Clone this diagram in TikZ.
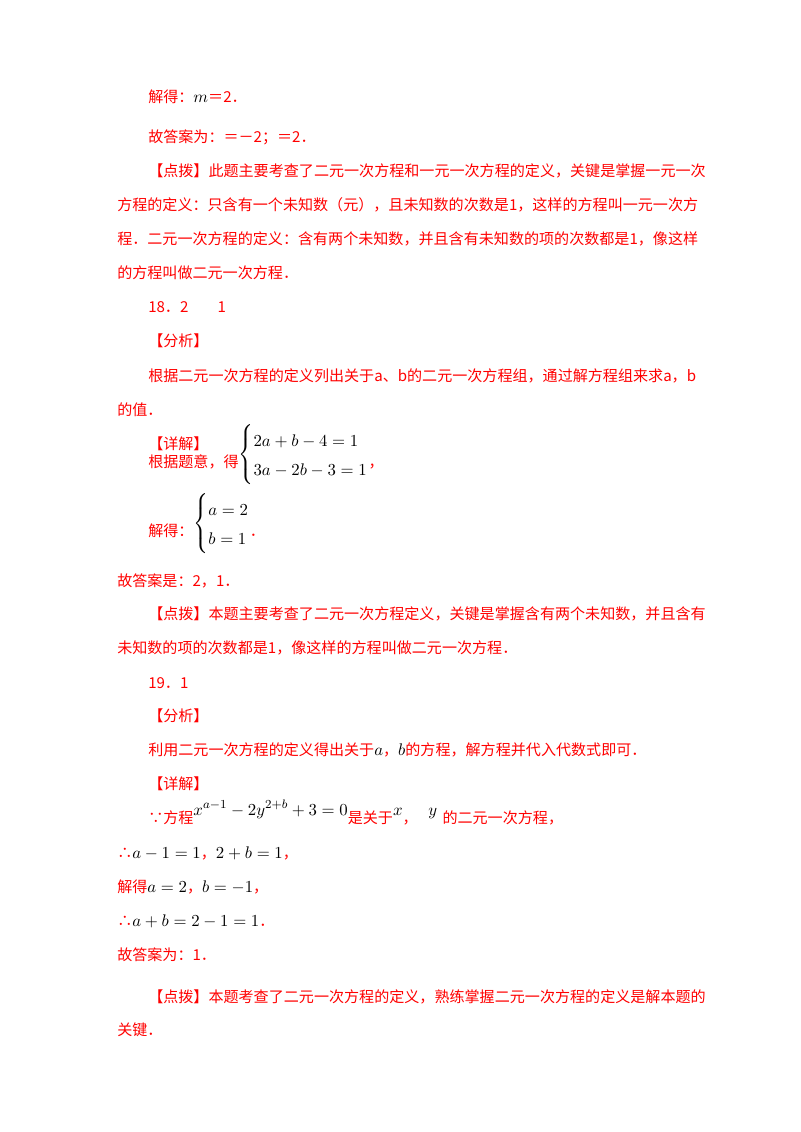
\documentclass[tikz,border=0pt]{standalone}
\usepackage{amsmath}
\usepackage{fontspec}
\setmainfont{Liberation Serif}
\newfontfamily\cjk{Noto Sans CJK SC}
\definecolor{rd}{RGB}{255,0,0}
\begin{document}
\begin{tikzpicture}[x=0.75pt,y=-0.75pt]
\tikzset{ln/.style={anchor=base west,inner sep=0pt,font=\cjk\fontsize{11.3}{13}\selectfont,text=rd}}
\useasboundingbox (0,0) rectangle (800,1132);
\newcommand{\M}[1]{\textcolor{black}{\scalebox{1.15}{$#1$}}}
\newcommand{\SYS}[1]{\textcolor{black}{\scalebox{1.15}{\renewcommand{\arraystretch}{1.45}$\left\{\begin{array}{@{}l@{}}#1\end{array}\right.$}}}
\node[ln] (l1) at (148,102) {解得：\M{m}＝2．};
\node[ln] (l2) at (148,142) {故答案为：＝－2；＝2．};
\node[ln] (l3) at (148,176) {【点拨】此题主要考查了二元一次方程和一元一次方程的定义，关键是掌握一元一次};
\node[ln] (l4) at (117,210) {方程的定义：只含有一个未知数（元），且未知数的次数是1，这样的方程叫一元一次方};
\node[ln] (l5) at (117,244) {程．二元一次方程的定义：含有两个未知数，并且含有未知数的项的次数都是1，像这样};
\node[ln] (l6) at (117,278) {的方程叫做二元一次方程．};
\node[ln] (l7) at (148,312) {18．2\hspace{22pt}1};
\node[ln] (l8) at (148,346) {【分析】};
\node[ln] (l9) at (148,381) {根据二元一次方程的定义列出关于a、b的二元一次方程组，通过解方程组来求a，b};
\node[ln] (l10) at (117,415) {的值．};
\node[ln] (l11) at (148,412) {\phantom{x}};
\node[ln] (l11b) at (148,420) {};
\node[ln] (l11c) at (148,449) {【详解】};
\node[ln] (l12) at (148,467) {根据题意，得\raisebox{6pt}{\SYS{2a+b-4=1\\3a-2b-3=1}}，};
\node[ln] (l13) at (148,536) {解得：\raisebox{6pt}{\SYS{a=2\\b=1}}．};
\node[ln] (l14) at (117,586) {故答案是：2，1．};
\node[ln] (l15) at (148,619) {【点拨】本题主要考查了二元一次方程定义，关键是掌握含有两个未知数，并且含有};
\node[ln] (l16) at (117,653) {未知数的项的次数都是1，像这样的方程叫做二元一次方程．};
\node[ln] (l17) at (148,688) {19．1};
\node[ln] (l18) at (148,721) {【分析】};
\node[ln] (l19) at (148,755) {利用二元一次方程的定义得出关于\M{a}，\M{b}的方程，解方程并代入代数式即可．};
\node[ln] (l20) at (148,789) {【详解】};
\node[ln] (l21) at (148,823) {∵方程\raisebox{6pt}{\M{x^{a-1}-2y^{2+b}+3=0}}是关于\raisebox{6pt}{\M{x}}，\raisebox{6pt}{\hspace{8pt}\M{y}}\hspace{4pt}的二元一次方程，};
\node[ln] (l22) at (117,858) {∴\M{a-1=1}，\M{2+b=1}，};
\node[ln] (l23) at (117,892) {解得\M{a=2}，\M{b=-1}，};
\node[ln] (l24) at (117,926) {∴\M{a+b=2-1=1}．};
\node[ln] (l25) at (117,960) {故答案为：1．};
\node[ln] (l26) at (148,1002) {【点拨】本题考查了二元一次方程的定义，熟练掌握二元一次方程的定义是解本题的};
\node[ln] (l27) at (117,1035) {关键．};
\end{tikzpicture}
\end{document}
